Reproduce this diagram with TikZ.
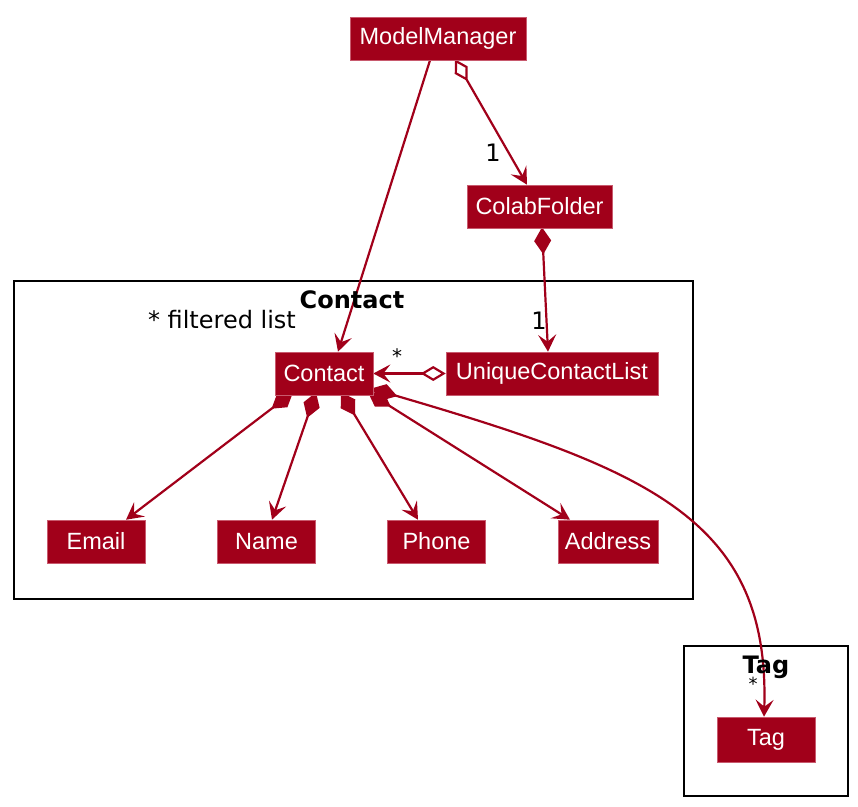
\documentclass[tikz,border=0pt]{standalone}
\usepackage{fontspec}
\setmainfont{Liberation Sans}
\newfontfamily\lblfont{DejaVu Sans}
\usetikzlibrary{arrows.meta,backgrounds}
\definecolor{umlred}{RGB}{161,0,26}
\definecolor{umlborder}{RGB}{200,90,110}
\begin{document}
\begin{tikzpicture}[x=1pt,y=-1pt,
  cls/.style={fill=umlred,draw=umlborder,line width=0.6pt,text=white,inner sep=0pt,
    minimum height=43pt,font=\fontsize{23.5}{23.5}\selectfont},
  pkg/.style={draw=black,line width=2.6pt},
  ptitle/.style={font=\lblfont\bfseries\fontsize{24}{24}\selectfont},
  lbl/.style={font=\lblfont\fontsize{24}{24}\selectfont,inner sep=0pt},
  conn/.style={draw=umlred,line width=2.2pt},
  arr/.style={-{Stealth[length=17pt,width=18pt,inset=7pt]}},
  comp/.style={{Diamond[length=27pt,width=17pt]}-{Stealth[length=17pt,width=18pt,inset=7pt]}},
  aggr/.style={{Diamond[open,fill=white,length=25pt,width=15pt]}-{Stealth[length=17pt,width=18pt,inset=7pt]}}
]
\useasboundingbox (0,0) rectangle (858,806);
% classes
\node[cls,minimum width=176pt] (mm) at (438,38.5) {ModelManager};
\node[cls,minimum width=145pt] (colab) at (539.5,206.5) {ColabFolder};
\node[cls,minimum width=212pt] (ucl) at (552,373.5) {UniqueContactList};
\node[cls,minimum width=98pt] (contact) at (324,373.5) {Contact};
\node[cls,minimum width=98pt] (email) at (96,541.5) {Email};
\node[cls,minimum width=98pt] (name) at (266.5,541.5) {Name};
\node[cls,minimum width=98pt] (phone) at (436.5,541.5) {Phone};
\node[cls,minimum width=100pt] (address) at (608,541.5) {Address};
\node[cls,minimum width=98pt,minimum height=45pt] (tag) at (766,739.5) {Tag};
\begin{scope}[on background layer]
% packages
\draw[pkg] (14,281) rectangle (693,599);
\draw[pkg] (684,646) rectangle (848,796);
% connectors
\draw[conn,arr] ([xshift=-8pt]mm.south) -- ([xshift=14pt]contact.north);
\draw[conn,aggr] ([xshift=17pt,yshift=1pt]mm.south) -- ([xshift=-12.5pt]colab.north);
\draw[conn,comp] ([xshift=2.5pt,yshift=1pt]colab.south) -- ([xshift=-4pt]ucl.north);
\draw[conn,aggr] (ucl.west) -- (contact.east);
\draw[conn,comp] ([xshift=-31pt,yshift=3pt]contact.south) -- ([xshift=30pt]email.north);
\draw[conn,comp] ([xshift=-8pt,yshift=3pt]contact.south) -- ([xshift=5.5pt]name.north);
\draw[conn,comp] ([xshift=17pt,yshift=3pt]contact.south) -- ([xshift=-18.5pt]phone.north);
\draw[conn,comp] ([xshift=44pt,yshift=3pt]contact.south) -- ([xshift=-38pt]address.north);
\draw[conn,comp] ([xshift=-2pt,yshift=-15pt]contact.east) .. controls (650,470) and (770,520) .. ([xshift=-2pt]tag.north);
\end{scope}
\node[ptitle] (tcontact) at (352,300) {Contact};
\node[ptitle] (ttag) at (766,667) {Tag};
% labels
\node[lbl] (l1) at (222,320) {* filtered list};
\node[lbl] (l2) at (493,153) {1};
\node[lbl] (l3) at (539,321) {1};
\node[lbl,font=\lblfont\fontsize{20}{20}\selectfont] (l4) at (397,356) {*};
\node[lbl,font=\lblfont\fontsize{18}{18}\selectfont] (l5) at (753,684) {*};
\end{tikzpicture}
\end{document}
